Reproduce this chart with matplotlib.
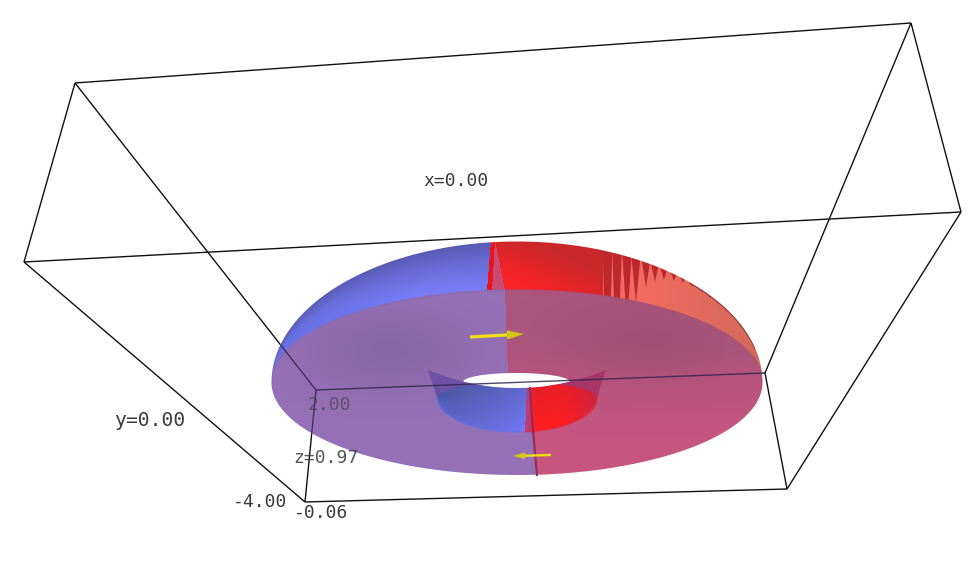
import numpy as np
import matplotlib
matplotlib.use("Agg")
import matplotlib.pyplot as plt
from matplotlib.patches import Polygon, PathPatch
from matplotlib.path import Path

# ---- scene values (in image pixels) ----
box_near = [(75, 83), (911, 23), (961, 212), (24, 262)]
box_far = [(316, 390), (765, 373), (787, 489), (305, 502)]
label_text = ["x=0.00", "y=0.00", "z=0.97", "2.00", "-4.00", "-0.06"]
label_x = [423, 114, 293, 308, 233, 294]
label_y = [181, 421, 458, 405, 502, 513]
label_size = [13, 14.2, 13, 13, 13, 13]
label_alpha = [1.0, 1.0, 0.85, 0.6, 1.0, 1.0]
torus_cx, torus_cy, torus_a = 517.0, 382.5, 245.5
cap_b, dome_b = 92.5, 141.0
hole_cx, hole_cy, hole_a, hole_b_up, hole_b_low = 517.0, 398.0, 80.0, 16.0, 34.0
tooth_x = [607.5, 617, 627, 636, 646, 655, 664, 674, 683, 692, 702, 710, 718, 727]
tooth_tip = [420, 375, 325, 303, 287, 282, 280, 281, 283, 287, 292, 298, 303, 312]
arrow_top = [(470, 337), (524, 334)]
arrow_low = [(551, 455), (513, 456)]

BLUE_BRIGHT, BLUE_DARK = (118, 124, 245), (88, 90, 178)
RED_BRIGHT, RED_DARK = (250, 35, 40), (200, 40, 42)
SALMON_A, SALMON_B = (240, 106, 95), (212, 105, 90)
TOOTH = (190, 40, 45)
CAP_LEFT = (150, 112, 182)
CAP_RIGHT_TOP, CAP_RIGHT_LOW = (172, 85, 125), (198, 85, 128)
WEDGE = (200, 75, 115)
STRIP = (235, 20, 30)
HORN_LEFT, HORN_RIGHT = (110, 82, 165), (168, 55, 105)
INK = "#3a3a3a"

fig = plt.figure(figsize=(9.7, 5.82), dpi=100)
ax = fig.add_axes([0, 0, 1, 1])
ax.set_xlim(0, 970)
ax.set_ylim(582, 0)
ax.axis("off")


def col(c):
    return np.array(c, dtype=float) / 255.0


def mix(a, b, t):
    t = np.clip(t, 0, 1)[..., None]
    return a * (1 - t) + b * t


def ell(dx, a):
    return np.sqrt(np.clip(1 - (dx / a) ** 2, 0, 1))


def pick(mask, c, base):
    return np.where(mask[..., None], c, base)


# silhouettes
th = np.linspace(0, 2 * np.pi, 500)
cap_xy = np.c_[torus_cx + torus_a * np.cos(th), torus_cy + cap_b * np.sin(th)]
th1 = np.linspace(np.pi, 2 * np.pi, 300)
th2 = np.linspace(0, np.pi, 300)
sil_xy = np.r_[
    np.c_[torus_cx + torus_a * np.cos(th1), torus_cy + dome_b * np.sin(th1)],
    np.c_[torus_cx + torus_a * np.cos(th2), torus_cy + cap_b * np.sin(th2)],
]
sil_path = Path(sil_xy)
cap_clip = Polygon(cap_xy, closed=True, transform=ax.transData)

# pixel grid
xe = np.arange(262, 772)
ye = np.arange(235, 482)
X, Y = np.meshgrid(xe[:-1] + 0.5, ye[:-1] + 0.5)

# ---- dome (behind the cap) ----
dx = X - torus_cx
up_cap = torus_cy - cap_b * ell(dx, torus_a)
up_top = torus_cy - dome_b * ell(dx, torus_a)
v = np.clip((up_cap - Y) / np.maximum(up_cap - up_top, 1), 0, 1)
blue = mix(col(BLUE_BRIGHT), col(BLUE_DARK), v ** 1.4)
blue = mix(blue, col((98, 108, 225)), np.clip((420 - X) / 140, 0, 1) * (1 - v) * 0.8)
red = mix(col(RED_BRIGHT), col(RED_DARK), np.clip(v ** 1.2 + (X - 530) / 130, 0, 1))
salmon = mix(col(SALMON_A), col(SALMON_B), np.clip((X - 650) / 100, 0, 1))
s_left = 491 - (Y - 241) * 4 / 49
s_right = 495 - (Y - 241) * 3 / 49
w_right = 495 + (Y - 241) * 10 / 49
rgb = blue.copy()
rgb = pick(X > s_left, col(STRIP), rgb)
rgb = pick(X > s_right, col(WEDGE), rgb)
rgb = pick(X > w_right, red, rgb)
rgb = pick(X > 603, salmon, rgb)
ax.pcolormesh(xe, ye, rgb, shading="flat", antialiased=False, zorder=2)

# teeth on the far right of the dome
for tx, tip in zip(tooth_x, tooth_tip):
    base = torus_cy - dome_b * ell(tx - torus_cx, torus_a) - 6
    ax.fill([tx - 4.9, tx + 4.9, tx], [base, base, tip], color=col(TOOTH),
            lw=0, zorder=3)
rim = np.linspace(690, 755, 60)
ax.plot(rim, torus_cy - dome_b * ell(rim - torus_cx, torus_a) + 0.5,
        color=(0.55, 0.18, 0.2), lw=1.0, zorder=3)

# ---- flat cap ----
seam_up = 505 + (Y - 290) * 3 / 85
seam_low = 530 + (Y - 388) * 7 / 87
seam = np.where(Y < 382, seam_up, seam_low)
left = np.broadcast_to(col(CAP_LEFT), X.shape + (3,))
shade_l = 1 - 0.08 * np.exp(-((X - 390) / 85) ** 2 - ((Y - 350) / 42) ** 2)
left = left * shade_l[..., None]
right = mix(col(CAP_RIGHT_TOP), col(CAP_RIGHT_LOW), (Y - 335) / 100)
shade_r = 1 - 0.06 * np.exp(-((X - 650) / 90) ** 2 - ((Y - 345) / 45) ** 2)
right = right * shade_r[..., None]
rgb = pick(X > seam, right, left)
m = ax.pcolormesh(xe, ye, rgb, shading="flat", antialiased=False, zorder=4)
m.set_clip_path(cap_clip)

# smooth the upper cap edge where it meets the dome
ex = np.linspace(torus_cx - torus_a, torus_cx + torus_a, 500)
ey = torus_cy - cap_b * ell(ex - torus_cx, torus_a)
ax.plot(ex[ex < 505], ey[ex < 505], color=col((142, 106, 172)), lw=1.0, zorder=4.2)
ax.plot(ex[ex >= 505], ey[ex >= 505], color=col((166, 82, 122)), lw=1.0, zorder=4.2)

# white surround that gives the silhouette a smooth edge
rect = [(260, 233), (774, 233), (774, 484), (260, 484), (260, 233)]
mask_verts = np.r_[np.array(rect, dtype=float), sil_xy[::-1], sil_xy[-1:]]
mask_codes = [Path.MOVETO] + [Path.LINETO] * 4 + [Path.MOVETO] + [Path.LINETO] * (len(sil_xy))
ax.add_patch(PathPatch(Path(mask_verts, mask_codes), fc="white", ec="none", lw=0, zorder=4.5))

# ---- hole: horns, wall, opening ----
hx = np.linspace(428, 606, 180)
parab = 388 - 18 * ((hx - hole_cx) / 89) ** 2
low_th = np.linspace(np.pi, 0, 120)
low = np.c_[hole_cx + hole_a * np.cos(low_th), hole_cy + hole_b_low * np.sin(low_th)]
outline = np.r_[np.c_[hx, parab], [(601, 385)], low[::-1], [(433, 385)]]
outline_clip = Polygon(outline, closed=True, transform=ax.transData)
hxe = np.arange(426, 609)
hye = np.arange(368, 434)
HX, HY = np.meshgrid(hxe[:-1] + 0.5, hye[:-1] + 0.5)
horn = pick(HX > 520, col(HORN_RIGHT), col(HORN_LEFT))
m = ax.pcolormesh(hxe, hye, horn, shading="flat", antialiased=False, zorder=5)
m.set_clip_path(outline_clip)

wx = HX - hole_cx
wall_top = np.maximum(hole_cy - hole_b_up * ell(wx, hole_a),
                      388 - 18 * (wx / 89) ** 2)
wall_bot = hole_cy + hole_b_low * ell(wx, hole_a)
w_mask = (HY >= wall_top) & (HY <= wall_bot) & (np.abs(wx) < hole_a)
tb = np.clip((HX - 437) / 88, 0, 1)
vb = np.clip((HY - wall_top) / np.maximum(wall_bot - wall_top, 1), 0, 1)
wall_blue = mix(col((74, 86, 160)), col((115, 120, 245)), 0.55 * tb ** 1.4 + 0.45 * vb)
wall_red = mix(col((255, 30, 32)), col((198, 40, 72)), np.clip((HX - 560) / 37, 0, 1) ** 1.5)
wall_red = mix(wall_red, col((215, 30, 45)), (1 - vb) * 0.6)
split_a = 525 + (432 - HY) * 2 / 44
split_b = 531 + (432 - HY) * -1 / 44
wall = pick(HX > split_a, col((190, 60, 115)), wall_blue)
wall = pick(HX > split_b + 2, wall_red, wall)
alpha = w_mask.astype(float)[..., None]
ax.pcolormesh(hxe, hye, np.concatenate([wall, alpha], axis=2), shading="flat",
              antialiased=False, zorder=6)

# smooth lower edge of the wall
ax.plot(low[low[:, 0] < 525, 0], low[low[:, 0] < 525, 1], color=col((108, 114, 225)),
        lw=0.9, zorder=6.5)
ax.plot(low[low[:, 0] >= 525, 0], low[low[:, 0] >= 525, 1], color=col((232, 40, 55)),
        lw=0.9, zorder=6.5)

wx_ = np.linspace(463, 570, 100)
wd = wx_ - 516.5
ax.fill(np.r_[wx_, wx_[::-1]],
        np.r_[382 - 9 * ell(wd, 53.5), (388 - 18 * (wd / 89) ** 2)[::-1]],
        color="white", lw=0, zorder=7)

# seam over wall and lower cap
ax.plot([530, 532, 537], [388, 420, 475], color=(0.58, 0.15, 0.30), lw=1.6,
        alpha=0.9, zorder=8)

# box lines: dark outside the surface, dimmed where seen through it
segments = [(box_near[i], box_near[(i + 1) % 4]) for i in range(4)]
segments += [(box_far[i], box_far[(i + 1) % 4]) for i in range(4)]
segments += [(box_near[i], box_far[i]) for i in range(4)]
for p, q in segments:
    t = np.linspace(0, 1, 1500)
    px = p[0] + (q[0] - p[0]) * t
    py = p[1] + (q[1] - p[1]) * t
    inside = sil_path.contains_points(np.c_[px, py])
    lx = px.copy()
    ly = py.copy()
    lx[inside] = np.nan
    ax.plot(lx, ly, color="#111111", lw=1.0, zorder=9, solid_capstyle="butt")
    ix = px.copy()
    ix[~inside] = np.nan
    ax.plot(ix, py, color=(0.2, 0.14, 0.3), lw=1.0, alpha=0.85, zorder=9,
            solid_capstyle="butt")

# arrows: shaft plus a solid head
for (p, q), hl, hw, lw in [(arrow_top, 17, 4.6, 2.3), (arrow_low, 12, 3.4, 1.7)]:
    p = np.array(p, dtype=float)
    q = np.array(q, dtype=float)
    d = (q - p) / np.linalg.norm(q - p)
    n = np.array([-d[1], d[0]])
    b = q - d * hl
    ax.plot([p[0], b[0]], [p[1], b[1]], color="#ecdf10", lw=lw, zorder=10,
            solid_capstyle="butt")
    ax.fill([b[0] + n[0] * hw, q[0], b[0] - n[0] * hw],
            [b[1] + n[1] * hw, q[1], b[1] - n[1] * hw],
            color="#d2c614", lw=0, zorder=10)

# labels
for s, lx, ly, ls, la in zip(label_text, label_x, label_y, label_size, label_alpha):
    ax.text(lx, ly, s, family="DejaVu Sans Mono", fontsize=ls, color=INK, alpha=la,
            ha="left", va="center", zorder=11)

fig.savefig("out.png", dpi=100, facecolor="white")
